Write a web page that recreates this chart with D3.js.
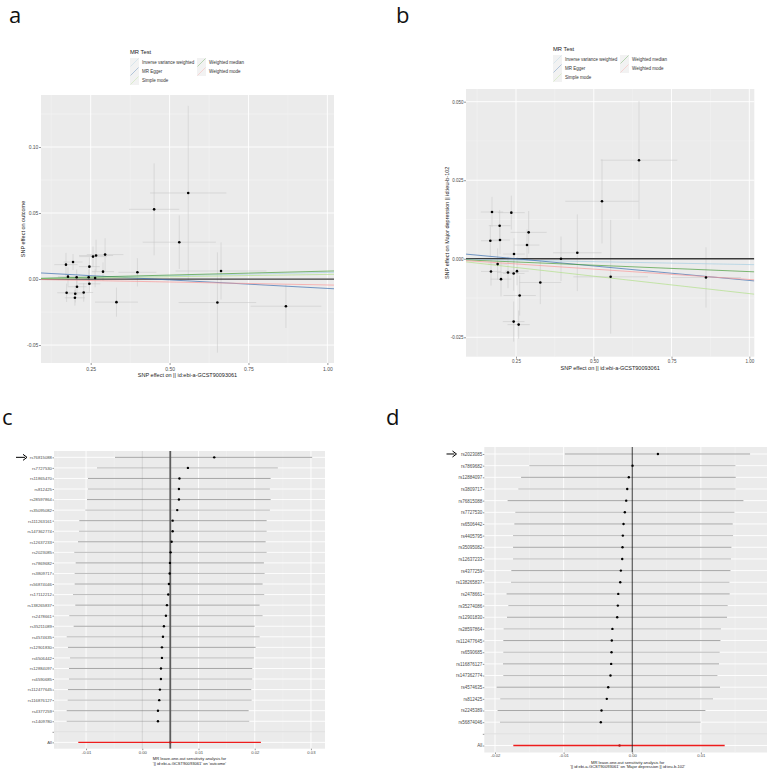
<!DOCTYPE html>
<html>
<head>
<meta charset="utf-8">
<script src="https://cdn.jsdelivr.net/npm/d3@7"></script>
<style>
  body { margin: 0; background: #fff; }
  svg { display: block; font-family: 'Liberation Sans', Arial, sans-serif; }
</style>
</head>
<body>
<svg id="fig" width="767" height="773"></svg>
<script>
// MR methods, shared by the two scatter plots
const methods = ['Inverse variance weighted', 'MR Egger', 'Simple mode', 'Weighted median', 'Weighted mode']
const methodColors = ['#a6cee3', '#3b6fb0', '#b2df8a', '#4a9e3c', '#fb9a99']

// panel a: SNP effects on exposure / outcome
const exposureA = [0.1716, 0.194, 0.178, 0.2055, 0.1737, 0.201, 0.2, 0.2066, 0.2278, 0.2458, 0.2458, 0.2436, 0.2574,
  0.267, 0.264, 0.289, 0.2956, 0.3316, 0.398, 0.451, 0.5307, 0.559, 0.6515, 0.663, 0.8686]
const outcomeA = [0.0109, 0.0129, 0.0018, 0.0013, -0.0104, -0.0112, -0.0142, -0.0058, -0.0102, 0.0094, -0.0036, 0.0013,
  0.017, 0.0178, 0.0008, 0.0056, 0.0185, -0.0175, 0.0051, 0.0528, 0.0279, 0.0652, -0.0178, 0.0061, -0.0206]
const seExposureA = [0.037, 0.03, 0.032, 0.035, 0.03, 0.028, 0.032, 0.03, 0.03, 0.033, 0.035, 0.03, 0.044,
  0.054, 0.03, 0.035, 0.058, 0.068, 0.06, 0.0795, 0.116, 0.121, 0.123, 0.144, 0.112]
const seOutcomeA = [0.0089, 0.006, 0.007, 0.006, 0.007, 0.0065, 0.006, 0.0065, 0.007, 0.007, 0.006, 0.006, 0.0076,
  0.012, 0.007, 0.007, 0.0124, 0.011, 0.0107, 0.0348, 0.0203, 0.066, 0.038, 0.0216, 0.0165]
const slopesA = [0.005, -0.0129, 0.0035, 0.006, -0.0045]
const interceptsA = [0, 0.0058, 0, 0, 0]

// panel b: SNP effects on exposure / major depression
const exposureB = [0.1729, 0.1975, 0.1675, 0.1986, 0.235, 0.2907, 0.2854, 0.2436, 0.191, 0.1696, 0.2018, 0.2243,
  0.2425, 0.2532, 0.2618, 0.2425, 0.2586, 0.3282, 0.3946, 0.4471, 0.5264, 0.6454, 0.5543, 0.8607]
const outcomeB = [0.01489, 0.01053, 0.00574, 0.00596, 0.01468, 0.0084, 0.00436, 0.00149, -0.0017, -0.00404, -0.00649,
  -0.00436, -0.00468, -0.00394, -0.0117, -0.02, -0.02096, -0.00755, 0, 0.00191, 0.0183, 0.03138, -0.00574, -0.00596]
const seExposureB = [0.036, 0.035, 0.03, 0.032, 0.043, 0.058, 0.04, 0.035, 0.03, 0.032, 0.033, 0.035,
  0.035, 0.038, 0.052, 0.035, 0.036, 0.067, 0.064, 0.078, 0.118, 0.123, 0.12, 0.112]
const seOutcomeB = [0.0048, 0.005, 0.005, 0.0045, 0.0054, 0.0068, 0.005, 0.005, 0.005, 0.0045, 0.0055, 0.005,
  0.0055, 0.0045, 0.0064, 0.0064, 0.0045, 0.0069, 0.0071, 0.0122, 0.0134, 0.0188, 0.0181, 0.0096]
const slopesB = [-0.00185, -0.0092, -0.0111, -0.0041, -0.0066]
const interceptsB = [0, 0.0023, 0, 0, 0]

// panel c: leave-one-out, outcome
const snpsC = ['rs76815088', 'rs7727530', 'rs11865470', 'rs812425', 'rs28597864', 'rs35095082', 'rs111263161',
  'rs147362774', 'rs12637233', 'rs2023085', 'rs7869682', 'rs3809717', 'rs56874046', 'rs17112212', 'rs138265837',
  'rs2478661', 'rs35211089', 'rs4574635', 'rs12901830', 'rs6506442', 'rs12884097', 'rs6590685', 'rs112477645',
  'rs116876127', 'rs4377259', 'rs1409780']
const looBetaC = [0.0128, 0.00812, 0.00661, 0.00652, 0.00652, 0.00622, 0.0054, 0.0054, 0.00522, 0.00504, 0.00492,
  0.00487, 0.00474, 0.00462, 0.00439, 0.00421, 0.00385, 0.00368, 0.0035, 0.0035, 0.00332, 0.00332, 0.00314,
  0.00302, 0.00279, 0.00279]
const looLowC = [-0.00485, -0.00805, -0.00965, -0.00965, -0.00983, -0.01013, -0.0112, -0.01125, -0.01143, -0.01209,
  -0.01184, -0.01202, -0.01202, -0.01232, -0.01191, -0.01298, -0.0122, -0.01344, -0.01321, -0.01285, -0.01303,
  -0.01303, -0.01321, -0.01326, -0.01344, -0.01344]
const looHighC = [0.03022, 0.02412, 0.02283, 0.0227, 0.02283, 0.0227, 0.02212, 0.02212, 0.02194, 0.02212, 0.02164,
  0.02176, 0.0214, 0.02169, 0.02087, 0.0214, 0.01998, 0.02087, 0.02016, 0.01986, 0.01956, 0.01956, 0.01938,
  0.01945, 0.01892, 0.01902]
const allC = [0.00498, -0.01138, 0.0211]

// panel d: leave-one-out, major depression
const snpsD = ['rs2023085', 'rs7869682', 'rs12884097', 'rs3809717', 'rs76815088', 'rs7727530', 'rs6506442',
  'rs4405795', 'rs35095082', 'rs12637233', 'rs4377259', 'rs138265837', 'rs2478661', 'rs35274086', 'rs12901830',
  'rs28597864', 'rs112477645', 'rs6590685', 'rs116876127', 'rs147362774', 'rs4574635', 'rs812425', 'rs2245389',
  'rs56874046']
const looBetaD = [0.00374, 0.00004, -0.0005, -0.00073, -0.00088, -0.00108, -0.00127, -0.00137, -0.00142, -0.00146,
  -0.00166, -0.00175, -0.00204, -0.0021, -0.00219, -0.00289, -0.00298, -0.00302, -0.00307, -0.00317, -0.0035,
  -0.00371, -0.00448, -0.00458]
const looLowD = [-0.00984, -0.015, -0.0162, -0.0166, -0.01816, -0.01704, -0.01718, -0.01737, -0.01737, -0.01737,
  -0.01762, -0.01766, -0.01831, -0.01806, -0.01825, -0.01874, -0.01879, -0.01879, -0.01883, -0.01879, -0.01977,
  -0.01923, -0.01962, -0.01927]
const looHighD = [0.01717, 0.01504, 0.01508, 0.01504, 0.0162, 0.01489, 0.01464, 0.01469, 0.01445, 0.01439, 0.01431,
  0.01416, 0.0142, 0.01391, 0.01381, 0.01293, 0.01285, 0.01274, 0.01264, 0.01241, 0.01279, 0.01177, 0.01066,
  0.00997]
const allD = [-0.00185, -0.01733, 0.01347]

const svg = d3.select('#fig')
const noMinus = f => d => f(d).replace('\u2212', '-')

function styleAxis(g, size) {
  g.select('.domain').remove()
  g.selectAll('.tick line').attr('stroke', '#333').attr('stroke-width', 0.5)
  g.selectAll('.tick text').attr('fill', '#4d4d4d').attr('font-size', size)
}

function panelBg(g, box, clipId) {
  svg.append('clipPath').attr('id', clipId)
    .append('rect')
    .attr('x', box.left).attr('y', box.top)
    .attr('width', box.right - box.left).attr('height', box.bottom - box.top)
  g.append('rect')
    .attr('x', box.left).attr('y', box.top)
    .attr('width', box.right - box.left).attr('height', box.bottom - box.top)
    .attr('fill', '#ebebeb')
}

function vGrid(g, x, box, vals, color, w) {
  g.append('g').selectAll('line').data(vals).join('line')
    .attr('x1', d => x(d)).attr('x2', d => x(d))
    .attr('y1', box.top).attr('y2', box.bottom)
    .attr('stroke', color).attr('stroke-width', w)
}

function hGrid(g, y, box, vals, color, w) {
  g.append('g').selectAll('line').data(vals).join('line')
    .attr('y1', d => y(d)).attr('y2', d => y(d))
    .attr('x1', box.left).attr('x2', box.right)
    .attr('stroke', color).attr('stroke-width', w)
}

function scatterPanel(opt) {
  const x = d3.scaleLinear().domain(opt.xDomain).range([opt.left, opt.right])
  const y = d3.scaleLinear().domain(opt.yDomain).range([opt.bottom, opt.top])
  const g = svg.append('g')
  panelBg(g, opt, opt.id)

  vGrid(g, x, opt, opt.xMinor, '#f5f5f5', 0.5)
  hGrid(g, y, opt, opt.yMinor, '#f5f5f5', 0.5)
  vGrid(g, x, opt, opt.xTicks, '#fff', 0.9)
  hGrid(g, y, opt, opt.yTicks, '#fff', 0.9)

  const pts = opt.bx.map((d, i) => ({ x: d, y: opt.by[i], sx: opt.sx[i], sy: opt.sy[i] }))
  const plot = g.append('g').attr('clip-path', 'url(#' + opt.id + ')')

  plot.append('g').selectAll('line').data(pts).join('line')
    .attr('x1', d => x(d.x)).attr('x2', d => x(d.x))
    .attr('y1', d => y(d.y - d.sy)).attr('y2', d => y(d.y + d.sy))
    .attr('stroke', '#c4c4c4').attr('stroke-width', 0.5)
  plot.append('g').selectAll('line').data(pts).join('line')
    .attr('y1', d => y(d.y)).attr('y2', d => y(d.y))
    .attr('x1', d => x(d.x - d.sx)).attr('x2', d => x(d.x + d.sx))
    .attr('stroke', '#c4c4c4').attr('stroke-width', 0.5)

  // zero reference line
  plot.append('line')
    .attr('x1', opt.left).attr('x2', opt.right)
    .attr('y1', y(0)).attr('y2', y(0))
    .attr('stroke', '#3a3a3a').attr('stroke-width', 1.3)

  // MR fits
  const [d0, d1] = opt.xDomain
  plot.append('g').selectAll('line').data(methods).join('line')
    .attr('x1', x(d0)).attr('x2', x(d1))
    .attr('y1', (d, i) => y(opt.intercepts[i] + opt.slopes[i] * d0))
    .attr('y2', (d, i) => y(opt.intercepts[i] + opt.slopes[i] * d1))
    .attr('stroke', (d, i) => methodColors[i]).attr('stroke-width', 0.7)

  plot.append('g').selectAll('circle').data(pts).join('circle')
    .attr('cx', d => x(d.x)).attr('cy', d => y(d.y)).attr('r', 1.3)
    .attr('fill', '#000')

  svg.append('g')
    .attr('transform', 'translate(0,' + opt.bottom + ')')
    .call(d3.axisBottom(x).tickValues(opt.xTicks).tickFormat(noMinus(d3.format('.2f')))
      .tickSize(2).tickPadding(opt.xPad))
    .call(g => styleAxis(g, opt.tickSize))
  svg.append('g')
    .attr('transform', 'translate(' + opt.left + ',0)')
    .call(d3.axisLeft(y).tickValues(opt.yTicks).tickFormat(noMinus(d3.format(opt.yFmt)))
      .tickSize(2).tickPadding(0.6))
    .call(g => styleAxis(g, opt.tickSize))

  svg.append('text')
    .attr('x', (opt.left + opt.right) / 2).attr('y', opt.xTitleY)
    .attr('text-anchor', 'middle').attr('font-size', 5.5).attr('fill', '#222')
    .text(opt.xTitle)
  svg.append('text')
    .attr('transform', 'translate(' + opt.yTitleX + ',' + (opt.top + opt.bottom) / 2 + ') rotate(-90)')
    .attr('text-anchor', 'middle').attr('font-size', 5.5).attr('fill', '#222')
    .text(opt.yTitle)
}

function legend(lx, ly, col2) {
  const g = svg.append('g')
  g.append('text').attr('x', lx).attr('y', ly).attr('font-size', 5.8).attr('fill', '#222').text('MR Test')
  const pos = [[0, 0], [0, 1], [0, 2], [1, 0], [1, 1]]
  methods.forEach((m, i) => {
    const kx = lx + pos[i][0] * col2
    const ky = ly + 4 + pos[i][1] * 9
    g.append('rect').attr('x', kx).attr('y', ky).attr('width', 9).attr('height', 9).attr('fill', '#f2f2f2')
    g.append('line')
      .attr('x1', kx + 0.5).attr('y1', ky + 8.5).attr('x2', kx + 8.5).attr('y2', ky + 0.5)
      .attr('stroke', methodColors[i]).attr('stroke-width', 0.5).attr('stroke-opacity', 0.7)
    g.append('text').attr('x', kx + 12).attr('y', ky + 6.2)
      .attr('font-size', 4.5).attr('fill', '#333').text(m)
  })
}

function looPanel(opt) {
  const rows = opt.snps.concat(['', 'All'])
  const x = d3.scaleLinear().domain(opt.xDomain).range([opt.left, opt.right])
  const y = d3.scalePoint().domain(rows).range([opt.top, opt.bottom]).padding(0.6)
  const g = svg.append('g')
  panelBg(g, opt, opt.id)

  vGrid(g, x, opt, opt.xMinor, '#f5f5f5', 0.5)
  vGrid(g, x, opt, opt.xTicks, '#fff', 0.9)
  hGrid(g, y, opt, rows, '#fff', 0.9)

  const plot = g.append('g').attr('clip-path', 'url(#' + opt.id + ')')
  // separator before the overall estimate
  plot.append('line')
    .attr('x1', opt.left).attr('x2', opt.right)
    .attr('y1', y('')).attr('y2', y(''))
    .attr('stroke', '#cfcfcf').attr('stroke-width', 0.7)

  opt.vlines.filter(v => !v.top).forEach(v => {
    plot.append('line')
      .attr('x1', x(v.at)).attr('x2', x(v.at))
      .attr('y1', opt.top).attr('y2', opt.bottom)
      .attr('stroke', v.color).attr('stroke-width', v.width)
  })

  const rowsData = opt.snps.map((s, i) => ({ snp: s, b: opt.beta[i], lo: opt.lo[i], hi: opt.hi[i] }))
  plot.append('g').selectAll('line').data(rowsData).join('line')
    .attr('x1', d => x(d.lo)).attr('x2', d => x(d.hi))
    .attr('y1', d => y(d.snp)).attr('y2', d => y(d.snp))
    .attr('stroke', (d, i) => i % 2 ? '#ababab' : '#8f8f8f').attr('stroke-width', 0.8)

  plot.append('line')
    .attr('x1', x(opt.all[1])).attr('x2', x(opt.all[2]))
    .attr('y1', y('All')).attr('y2', y('All'))
    .attr('stroke', '#ee1c1c').attr('stroke-width', 1.3)

  opt.vlines.filter(v => v.top).forEach(v => {
    plot.append('line')
      .attr('x1', x(v.at)).attr('x2', x(v.at))
      .attr('y1', opt.top).attr('y2', opt.bottom)
      .attr('stroke', v.color).attr('stroke-width', v.width)
  })

  plot.append('circle')
    .attr('cx', x(opt.all[0])).attr('cy', y('All')).attr('r', 1.2).attr('fill', '#b01e1e')

  plot.append('g').selectAll('circle').data(rowsData).join('circle')
    .attr('cx', d => x(d.b)).attr('cy', d => y(d.snp)).attr('r', 1.2)
    .attr('fill', '#000')

  svg.append('g')
    .attr('transform', 'translate(0,' + opt.bottom + ')')
    .call(d3.axisBottom(x).tickValues(opt.xTicks).tickFormat(noMinus(d3.format('.2f')))
      .tickSize(1.5).tickPadding(opt.xPad))
    .call(g => styleAxis(g, 4.2))
  svg.append('g')
    .attr('transform', 'translate(' + opt.left + ',0)')
    .call(d3.axisLeft(y).tickSize(1.5).tickPadding(0.6))
    .call(g => styleAxis(g, opt.labelSize))

  const cx = (opt.left + opt.right) / 2
  opt.xTitle.forEach((t, i) => {
    svg.append('text')
      .attr('x', cx).attr('y', opt.xTitleY + i * 4.6)
      .attr('text-anchor', 'middle').attr('font-size', 4.1).attr('fill', '#222')
      .text(t)
  })

  // arrow pointing at the first SNP
  const ay = y(opt.snps[0])
  svg.append('line')
    .attr('x1', opt.arrow[0]).attr('x2', opt.arrow[1] - 2)
    .attr('y1', ay).attr('y2', ay)
    .attr('stroke', '#000').attr('stroke-width', 1)
  svg.append('path')
    .attr('d', d3.line()([[opt.arrow[1] - 4, ay - 3], [opt.arrow[1], ay], [opt.arrow[1] - 4, ay + 3]]))
    .attr('fill', 'none').attr('stroke', '#000').attr('stroke-width', 1)
}

function panelLetter(t, x, y) {
  svg.append('text').attr('x', x).attr('y', y)
    .attr('font-family', "'Open Sans', 'Liberation Sans', sans-serif")
    .attr('font-size', 22).attr('fill', '#111').text(t)
}

panelLetter('a', 9, 23)
panelLetter('b', 396, 23)
panelLetter('c', 2, 425)
panelLetter('d', 386, 425)

legend(130, 54, 67)
legend(553, 51, 67)

scatterPanel({
  id: 'clipA', left: 41, right: 334, top: 95, bottom: 363,
  xDomain: [0.0925, 1.021], yDomain: [-0.0636, 0.1394],
  xTicks: [0.25, 0.5, 0.75, 1.0], xMinor: [0.125, 0.375, 0.625, 0.875],
  yTicks: [-0.05, 0, 0.05, 0.10], yMinor: [-0.025, 0.025, 0.075, 0.125],
  yFmt: '.2f', tickSize: 5, xPad: 2,
  bx: exposureA, by: outcomeA, sx: seExposureA, sy: seOutcomeA,
  slopes: slopesA, intercepts: interceptsA,
  xTitle: 'SNP effect on  || id:ebi-a-GCST90093061', xTitleY: 377,
  yTitle: 'SNP effect on outcome', yTitleX: 25
})

scatterPanel({
  id: 'clipB', left: 466, right: 754.3, top: 89, bottom: 356.7,
  xDomain: [0.0893, 1.016], yDomain: [-0.03118, 0.05404],
  xTicks: [0.25, 0.5, 0.75, 1.0], xMinor: [0.125, 0.375, 0.625, 0.875],
  yTicks: [-0.025, 0, 0.025, 0.05], yMinor: [-0.0125, 0.0125, 0.0375],
  yFmt: '.3f', tickSize: 4.5, xPad: 1.2,
  bx: exposureB, by: outcomeB, sx: seExposureB, sy: seOutcomeB,
  slopes: slopesB, intercepts: interceptsB,
  xTitle: 'SNP effect on  || id:ebi-a-GCST90093061', xTitleY: 369.5,
  yTitle: 'SNP effect on Major depression || id:ieu-b-102', yTitleX: 448.5
})

looPanel({
  id: 'clipC', left: 54, right: 325, top: 451, bottom: 748.7,
  xDomain: [-0.0157, 0.0325],
  xTicks: [-0.01, 0, 0.01, 0.02, 0.03], xMinor: [-0.015, -0.005, 0.005, 0.015, 0.025],
  snps: snpsC, beta: looBetaC, lo: looLowC, hi: looHighC, all: allC,
  vlines: [{ at: 0, color: '#bdbdbd', width: 0.7 }, { at: allC[0], color: '#5c5c5c', width: 1.8, top: true }],
  labelSize: 4.2, xPad: 1,
  xTitle: ['MR leave-one-out sensitivity analysis for', "'|| id:ebi-a-GCST90093061' on 'outcome'"],
  xTitleY: 760.3, arrow: [16, 27]
})

looPanel({
  id: 'clipD', left: 484.3, right: 771, top: 447, bottom: 752.5,
  xDomain: [-0.02156, 0.02022],
  xTicks: [-0.02, -0.01, 0, 0.01], xMinor: [-0.015, -0.005, 0.005, 0.015],
  snps: snpsD, beta: looBetaD, lo: looLowD, hi: looHighD, all: allD,
  vlines: [{ at: 0, color: '#222', width: 0.9, top: true }],
  labelSize: 4.5, xPad: 0.4,
  xTitle: ['MR leave-one-out sensitivity analysis for', "'|| id:ebi-a-GCST90093061' on 'Major depression || id:ieu-b-102'"],
  xTitleY: 763.5, arrow: [446.5, 456.5]
})
</script>
</body>
</html>
